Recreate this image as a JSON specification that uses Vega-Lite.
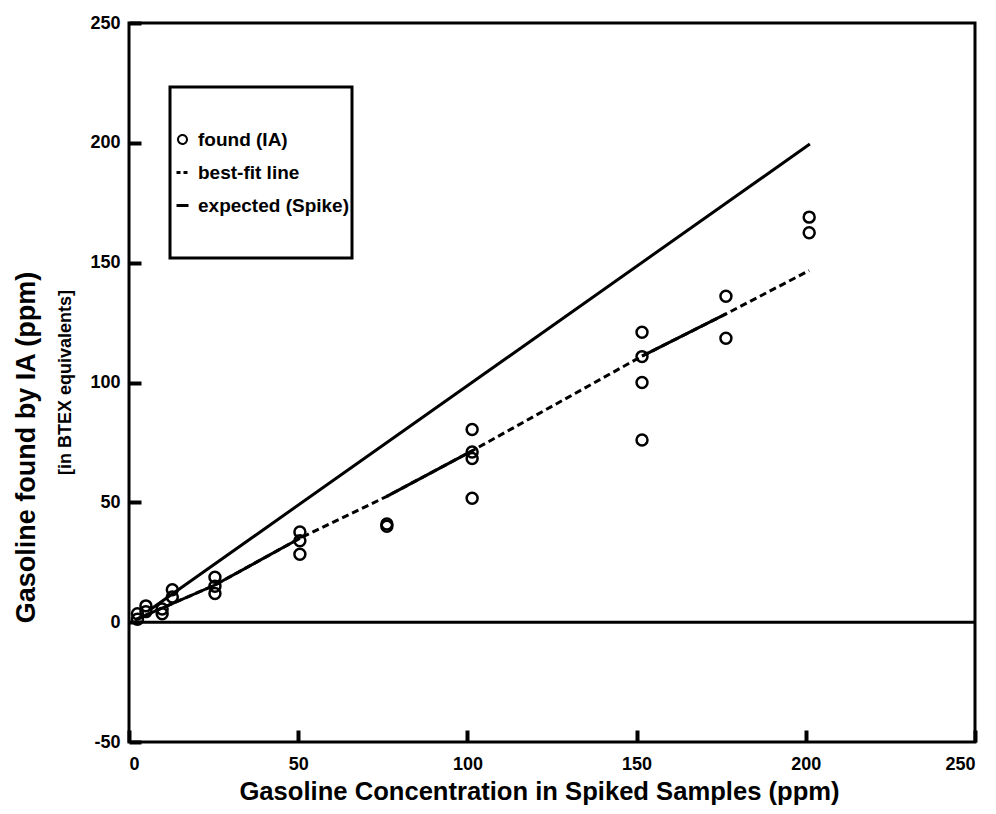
{
  "$schema": "https://vega.github.io/schema/vega-lite/v6.json",
  "width": 846,
  "height": 719,
  "autosize": {"type": "none"},
  "padding": {"left": 129, "top": 23, "right": 21, "bottom": 72},
  "background": "white",
  "config": {
    "font": "Liberation Sans",
    "view": {"stroke": "black", "strokeWidth": 3},
    "axis": {
      "domain": false,
      "grid": false,
      "labelColor": "black",
      "labelFont": "Liberation Sans",
      "labelFontSize": 18,
      "labelFontWeight": "bold",
      "titleColor": "black",
      "titleFont": "Liberation Sans",
      "titleFontWeight": "bold"
    }
  },
  "datasets": {
    "points": [
      {"x": 2.5, "y": 3.5, "series": "found (IA)"},
      {"x": 2.5, "y": 1.2, "series": "found (IA)"},
      {"x": 5, "y": 6.8, "series": "found (IA)"},
      {"x": 5, "y": 4.4, "series": "found (IA)"},
      {"x": 9.8, "y": 5.5, "series": "found (IA)"},
      {"x": 9.8, "y": 3.5, "series": "found (IA)"},
      {"x": 12.8, "y": 13.5, "series": "found (IA)"},
      {"x": 12.8, "y": 10.5, "series": "found (IA)"},
      {"x": 25.4, "y": 18.7, "series": "found (IA)"},
      {"x": 25.4, "y": 15, "series": "found (IA)"},
      {"x": 25.4, "y": 12, "series": "found (IA)"},
      {"x": 50.5, "y": 37.6, "series": "found (IA)"},
      {"x": 50.5, "y": 34, "series": "found (IA)"},
      {"x": 50.5, "y": 28.3, "series": "found (IA)"},
      {"x": 76.2, "y": 41, "series": "found (IA)"},
      {"x": 76.2, "y": 40, "series": "found (IA)"},
      {"x": 101.4, "y": 80.4, "series": "found (IA)"},
      {"x": 101.4, "y": 71, "series": "found (IA)"},
      {"x": 101.4, "y": 68.3, "series": "found (IA)"},
      {"x": 101.4, "y": 51.7, "series": "found (IA)"},
      {"x": 151.6, "y": 121, "series": "found (IA)"},
      {"x": 151.6, "y": 110.8, "series": "found (IA)"},
      {"x": 151.6, "y": 100, "series": "found (IA)"},
      {"x": 151.6, "y": 76, "series": "found (IA)"},
      {"x": 176.4, "y": 136, "series": "found (IA)"},
      {"x": 176.4, "y": 118.5, "series": "found (IA)"},
      {"x": 201, "y": 169, "series": "found (IA)"},
      {"x": 201, "y": 162.5, "series": "found (IA)"}
    ],
    "bestfit": [
      {"x": 1.8, "y": 1, "series": "best-fit line"},
      {"x": 25.4, "y": 15.5, "series": "best-fit line"},
      {"x": 50.5, "y": 35, "series": "best-fit line"},
      {"x": 76.2, "y": 52.5, "series": "best-fit line"},
      {"x": 101.4, "y": 71.5, "series": "best-fit line"},
      {"x": 151.6, "y": 111, "series": "best-fit line"},
      {"x": 176.4, "y": 128.6, "series": "best-fit line"},
      {"x": 201, "y": 146.7, "series": "best-fit line"}
    ],
    "expected": [
      {"x": 6, "y": 5, "series": "expected (Spike)"},
      {"x": 201.2, "y": 199.5, "series": "expected (Spike)"}
    ],
    "zero": [
      {"y": 0}
    ]
  },
  "resolve": {"scale": {"y": "independent"}},
  "layer": [
    {
      "encoding": {
        "x": {
          "field": "x",
          "type": "quantitative",
          "scale": {"domain": [0, 250], "nice": false},
          "axis": {
            "values": [0, 50, 100, 150, 200, 250],
            "ticks": true,
            "tickColor": "black",
            "tickWidth": 4,
            "tickSize": -12,
            "labelPadding": 25,
            "title": "Gasoline Concentration in Spiked Samples (ppm)",
            "titleFontSize": 25.6,
            "titleX": 410,
            "titleY": 57,
            "titleAlign": "center",
            "titleBaseline": "alphabetic"
          }
        },
        "y": {
          "field": "y",
          "type": "quantitative",
          "scale": {"domain": [-50, 250], "nice": false},
          "axis": {
            "orient": "left",
            "values": [-50, 0, 50, 100, 150, 200, 250],
            "ticks": true,
            "tickColor": "black",
            "tickWidth": 4,
            "tickSize": -12,
            "labelExpr": "replace(datum.label, '\u2212', '-')",
            "labelPadding": 21,
            "title": "Gasoline found by IA (ppm)",
            "titleFontSize": 27,
            "titleAngle": -90,
            "titleX": -95,
            "titleY": 424,
            "titleAlign": "center",
            "titleBaseline": "alphabetic"
          }
        }
      },
      "layer": [
        {
          "data": {"name": "bestfit"},
          "mark": {"type": "line", "strokeWidth": 3, "strokeDash": [7, 4]},
          "encoding": {
            "color": {
              "field": "series",
              "type": "nominal",
              "scale": {"domain": ["found (IA)", "best-fit line", "expected (Spike)"], "range": ["black", "black", "black"]},
              "legend": {
                "title": null,
                "values": [" ", "found (IA)", "best-fit line", "expected (Spike)", "  "],
                "orient": "none",
                "legendX": 41,
                "legendY": 64,
                "padding": 3,
                "clipHeight": 33,
                "rowPadding": 0,
                "symbolSize": 144,
                "labelOffset": 6,
                "labelFont": "Liberation Sans",
                "labelFontSize": 19,
                "labelFontWeight": "bold",
                "labelColor": "black",
                "strokeColor": "black",
                "fillColor": "white",
                "encode": {
                  "legend": {"update": {"strokeWidth": {"value": 3}}},
                  "symbols": {
                    "update": {
                      "shape": {"signal": "datum.value === 'found (IA)' ? 'circle' : 'stroke'"},
                      "size": {"signal": "datum.value === 'found (IA)' ? 80 : 144"},
                      "strokeDash": {"signal": "datum.value === 'best-fit line' ? [4, 3] : [1, 0]"},
                      "stroke": {"value": "black"},
                      "fill": {"value": "transparent"},
                      "strokeWidth": {"signal": "datum.value === 'found (IA)' ? 2 : 3"},
                      "opacity": {"signal": "trim(datum.value) === '' ? 0 : 1"}
                    }
                  }
                }
              }
            }
          }
        },
        {
          "data": {"name": "bestfit"},
          "transform": [{"filter": {"field": "x", "range": [0, 51]}}],
          "mark": {"type": "line", "strokeWidth": 3, "color": "black"},
          "encoding": {}
        },
        {
          "data": {"name": "bestfit"},
          "transform": [{"filter": {"field": "x", "range": [76, 102]}}],
          "mark": {"type": "line", "strokeWidth": 3, "color": "black"},
          "encoding": {}
        },
        {
          "data": {"name": "bestfit"},
          "transform": [{"filter": {"field": "x", "range": [151, 177]}}],
          "mark": {"type": "line", "strokeWidth": 3, "color": "black"},
          "encoding": {}
        },
        {
          "data": {"name": "expected"},
          "mark": {"type": "line", "strokeWidth": 3},
          "encoding": {
            "color": {"field": "series", "type": "nominal"}
          }
        },
        {
          "data": {"name": "points"},
          "mark": {"type": "point", "shape": "circle", "filled": false, "size": 120, "strokeWidth": 2.5, "opacity": 1},
          "encoding": {
            "color": {"field": "series", "type": "nominal"}
          }
        }
      ]
    },
    {
      "data": {"name": "zero"},
      "mark": {"type": "rule", "strokeWidth": 3, "color": "black"},
      "encoding": {
        "y": {
          "field": "y",
          "type": "quantitative",
          "scale": {"domain": [-50, 250], "nice": false},
          "axis": {
            "orient": "left",
            "labels": false,
            "ticks": false,
            "domain": false,
            "title": "[in BTEX equivalents]",
            "titleFontSize": 18,
            "titleAngle": -90,
            "titleX": -59,
            "titleY": 359,
            "titleAlign": "center",
            "titleBaseline": "alphabetic"
          }
        }
      }
    }
  ]
}
